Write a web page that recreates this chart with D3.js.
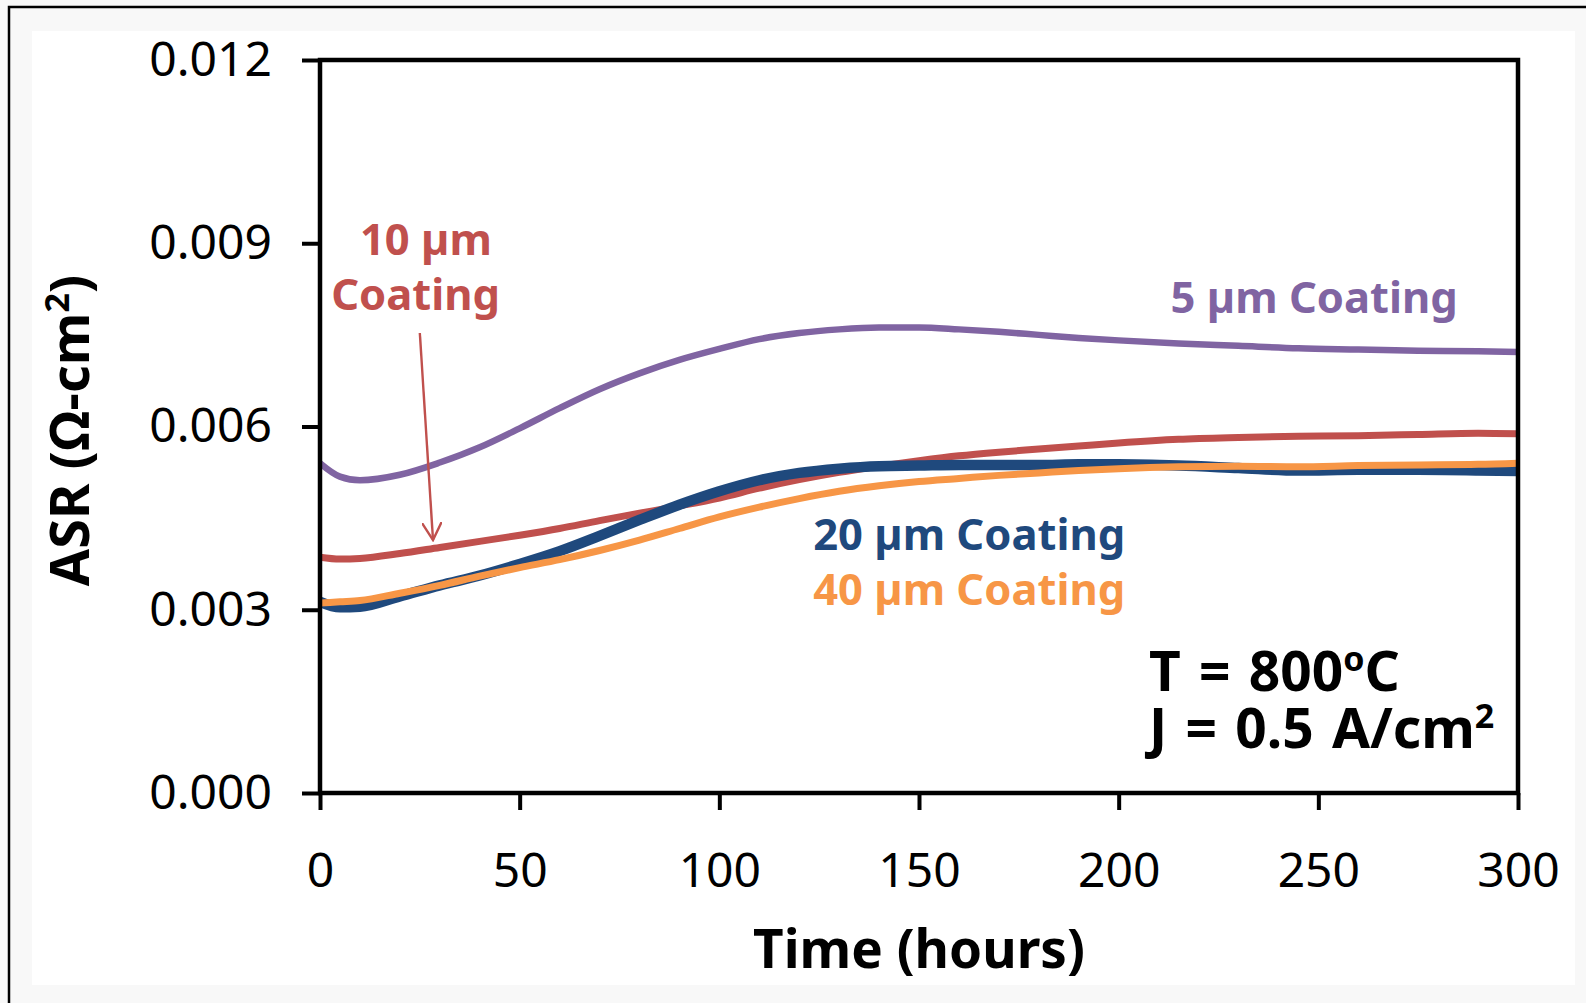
<!DOCTYPE html>
<html>
<head>
<meta charset="utf-8">
<script src="https://cdn.jsdelivr.net/npm/d3@7"></script>
<style>
  html, body { margin: 0; padding: 0; background: #ffffff; }
  svg { display: block; }
</style>
</head>
<body>
<svg id="chart" width="1586" height="1003"></svg>
<script>
// Time axis (hours) and ASR readings for each coating thickness
const hours = [0, 5, 10, 20, 30, 40, 50, 60, 70, 80, 90, 100, 110, 120, 130, 140, 150,
               160, 170, 180, 190, 200, 215, 230, 245, 260, 275, 290, 300];

const asr5um  = [0.00540, 0.00518, 0.00512, 0.00521, 0.00541, 0.00566, 0.00597, 0.00630, 0.00661, 0.00687,
                 0.00709, 0.00727, 0.00743, 0.00753, 0.00759, 0.00762, 0.00762, 0.00759, 0.00755, 0.00750,
                 0.00745, 0.00741, 0.00736, 0.00732, 0.00728, 0.00726, 0.00724, 0.00723, 0.00722];

const asr10um = [0.00386, 0.00383, 0.00384, 0.00392, 0.00402, 0.00412, 0.00422, 0.00433, 0.00446, 0.00458,
                 0.00470, 0.00483, 0.00499, 0.00513, 0.00525, 0.00535, 0.00544, 0.00552, 0.00558, 0.00563,
                 0.00568, 0.00573, 0.00579, 0.00582, 0.00584, 0.00585, 0.00587, 0.00589, 0.00588];

const asr20um = [0.00313, 0.00304, 0.00305, 0.00322, 0.00340, 0.00356, 0.00375, 0.00396, 0.00421, 0.00447,
                 0.00472, 0.00494, 0.00512, 0.00524, 0.00531, 0.00535, 0.00536, 0.00537, 0.00537, 0.00537,
                 0.00538, 0.00538, 0.00536, 0.00532, 0.00528, 0.00529, 0.00529, 0.00528, 0.00527];

const asr40um = [0.00311, 0.00313, 0.00315, 0.00327, 0.00340, 0.00355, 0.00369, 0.00382, 0.00397, 0.00414,
                 0.00433, 0.00452, 0.00468, 0.00482, 0.00494, 0.00503, 0.00510, 0.00515, 0.00520, 0.00524,
                 0.00528, 0.00531, 0.00534, 0.00535, 0.00534, 0.00536, 0.00537, 0.00538, 0.00540];

const xTicks = [0, 50, 100, 150, 200, 250, 300];
const yTicks = [0, 0.003, 0.006, 0.009, 0.012];

const seriesNames  = ["5 µm Coating", "10 µm Coating", "20 µm Coating", "40 µm Coating"];
const seriesValues = [asr5um, asr10um, asr20um, asr40um];
const seriesColors = ["#8064A2", "#C0504D", "#1F497D", "#F79646"];
const seriesWidths = [6.5, 7, 10.5, 7];

// ---------------------------------------------------------------------------
const W = 1586, H = 1003;
const plot = { left: 320, right: 1518, top: 60, bottom: 793 };

const svg = d3.select("#chart");

// page frame: light outer margin, white inner panel, dark edge on top/left
svg.append("rect").attr("x", 0).attr("y", 0).attr("width", W).attr("height", H).attr("fill", "#f8f8f8");
svg.append("rect").attr("x", 32).attr("y", 31).attr("width", 1543).attr("height", 954).attr("fill", "#ffffff");
svg.append("path")
  .attr("d", `M9,${H} L9,7 L${W},7`)
  .attr("fill", "none").attr("stroke", "#000").attr("stroke-width", 2.5);

const x = d3.scaleLinear().domain([0, 300]).range([plot.left, plot.right]);
const y = d3.scaleLinear().domain([0, 0.012]).range([plot.bottom, plot.top]);

const tickFont = "'Noto Sans', 'Open Sans', sans-serif";
const boldFont = "'Noto Sans', 'Open Sans', sans-serif";

// axes
const yAxis = svg.append("g")
  .attr("transform", `translate(${plot.left},0)`)
  .call(d3.axisLeft(y).tickValues(yTicks).tickFormat(d3.format(".3f")).tickSize(18).tickPadding(30));

const xAxis = svg.append("g")
  .attr("transform", `translate(0,${plot.bottom})`)
  .call(d3.axisBottom(x).tickValues(xTicks).tickFormat(d3.format("d")).tickSize(17).tickPadding(43));

[yAxis, xAxis].forEach(g => {
  g.select(".domain").remove();
  g.selectAll(".tick line").attr("stroke", "#000").attr("stroke-width", 4);
  g.selectAll(".tick text")
    .attr("fill", "#000")
    .style("font-family", tickFont)
    .style("font-size", "48px");
});

// series lines
const line = d3.line()
  .x(d => x(d[0]))
  .y(d => y(d[1]))
  .curve(d3.curveMonotoneX);

const plotG = svg.append("g");
seriesValues.forEach((vals, i) => {
  plotG.append("path")
    .datum(hours.map((h, j) => [h, vals[j]]))
    .attr("fill", "none")
    .attr("stroke", seriesColors[i])
    .attr("stroke-width", seriesWidths[i])
    .attr("stroke-linejoin", "round")
    .attr("stroke-linecap", "butt")
    .attr("d", line);
});

// plot frame
svg.append("rect")
  .attr("x", plot.left).attr("y", plot.top)
  .attr("width", plot.right - plot.left).attr("height", plot.bottom - plot.top)
  .attr("fill", "none").attr("stroke", "#000").attr("stroke-width", 4.5);

// series labels placed in data coordinates (hours, ASR)
const seriesLabels = [
  { text: "10 µm", h: 10.0, v: 0.00880, color: seriesColors[1] },
  { text: "Coating", h: 2.8, v: 0.00791, color: seriesColors[1] },
  { text: "5 µm Coating", h: 213.0, v: 0.00786, color: seriesColors[0] },
  { text: "20 µm Coating", h: 123.5, v: 0.00397, color: seriesColors[2] },
  { text: "40 µm Coating", h: 123.5, v: 0.00307, color: seriesColors[3] }
];
seriesLabels.forEach(l => {
  svg.append("text")
    .attr("x", x(l.h)).attr("y", y(l.v))
    .attr("fill", l.color)
    .style("font-family", boldFont)
    .style("font-weight", 700)
    .style("font-size", "43.5px")
    .text(l.text);
});

// arrow pointing from the 10 µm label down to its curve
const arrowTail = [25.0, 0.00753];
const arrowTip  = [28.3, 0.00414];
svg.append("defs").append("marker")
  .attr("id", "vhead")
  .attr("viewBox", "0 0 20 20")
  .attr("refX", 18).attr("refY", 10)
  .attr("markerWidth", 20).attr("markerHeight", 20)
  .attr("markerUnits", "userSpaceOnUse")
  .attr("orient", "auto")
  .append("path")
  .attr("d", "M0,0 L18,10 L0,20")
  .attr("fill", "none")
  .attr("stroke", seriesColors[1])
  .attr("stroke-width", 2.4);
svg.append("line")
  .attr("x1", x(arrowTail[0])).attr("y1", y(arrowTail[1]))
  .attr("x2", x(arrowTip[0])).attr("y2", y(arrowTip[1]))
  .attr("stroke", seriesColors[1])
  .attr("stroke-width", 2.4)
  .attr("marker-end", "url(#vhead)");

// test conditions
const condX = 207.6;
const t1 = svg.append("text")
  .attr("x", x(condX)).attr("y", y(0.00167))
  .style("font-family", boldFont).style("font-weight", 700).style("font-size", "55px")
  .style("word-spacing", "4px")
  .attr("fill", "#000");
t1.append("tspan").text("T = 800");
t1.append("tspan").attr("dy", -20).style("font-size", "34px").text("o");
t1.append("tspan").attr("dy", 20).text("C");

const t2 = svg.append("text")
  .attr("x", x(condX)).attr("y", y(0.000737))
  .style("font-family", boldFont).style("font-weight", 700).style("font-size", "55px")
  .style("word-spacing", "4px")
  .attr("fill", "#000");
t2.append("tspan").text("J = 0.5 A/cm");
t2.append("tspan").attr("dy", -20).style("font-size", "34px").text("2");

// axis titles
svg.append("text")
  .attr("x", (plot.left + plot.right) / 2).attr("y", 968)
  .attr("text-anchor", "middle")
  .style("font-family", boldFont).style("font-weight", 700).style("font-size", "53px")
  .attr("fill", "#000")
  .text("Time (hours)");

const yt = svg.append("text")
  .attr("transform", `translate(89,${(plot.top + plot.bottom) / 2 + 4}) rotate(-90)`)
  .attr("text-anchor", "middle")
  .style("font-family", boldFont).style("font-weight", 700).style("font-size", "54px")
  .attr("fill", "#000");
yt.append("tspan").text("ASR (Ω-cm");
yt.append("tspan").attr("dy", -20).style("font-size", "34px").text("2");
yt.append("tspan").attr("dy", 20).text(")");
</script>
</body>
</html>
